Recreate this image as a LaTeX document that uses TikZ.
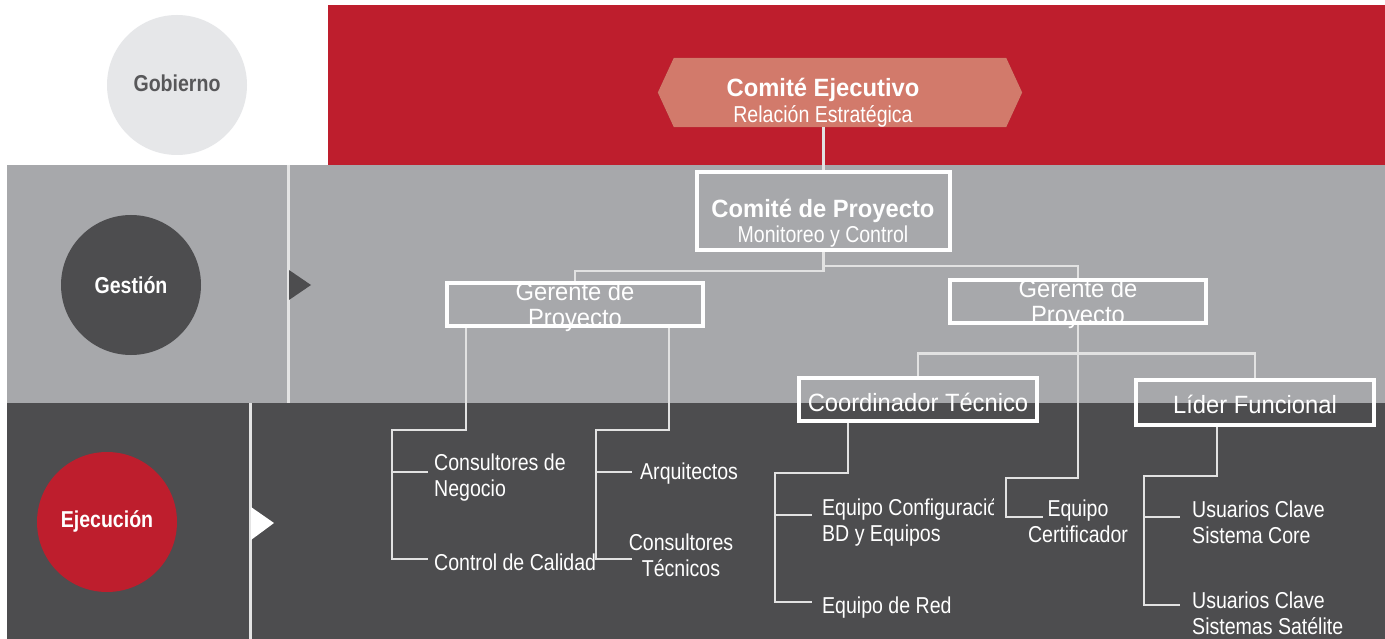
\documentclass[tikz,border=0pt]{standalone}
\usepackage{fontspec}
\setmainfont{Liberation Sans}
\newfontfamily\nar[FakeStretch=0.85]{Liberation Sans}
\newfontfamily\narw[FakeStretch=0.95]{Liberation Sans}
\definecolor{redband}{HTML}{BE1E2D}
\definecolor{grayband}{HTML}{A7A8AB}
\definecolor{darkband}{HTML}{4D4D4F}
\definecolor{salmon}{HTML}{D27A6B}
\definecolor{shadowc}{HTML}{8F1622}
\definecolor{gobc}{HTML}{E6E7E9}
\definecolor{gobt}{HTML}{58585A}
\definecolor{linec}{HTML}{E2E2E2}
\definecolor{divc}{HTML}{E4E4E4}
\begin{document}
\begin{tikzpicture}[x=1pt,y=-1pt,
  conn/.style={draw=linec, line width=2.5pt},
  boxw/.style={draw=white, line width=4pt, rectangle, inner sep=0pt},
  boxtext/.style={text=white, inner sep=0pt, align=center, font=\narw\fontsize{25}{26}\selectfont},
  lab/.style={text=white, inner sep=0pt, anchor=west, align=left, font=\nar\fontsize{23}{26}\selectfont},
  labc/.style={text=white, inner sep=0pt, align=center, font=\nar\fontsize{23}{26}\selectfont},
  sub/.style={text=white, inner sep=0pt, font=\nar\fontsize{23}{26}\selectfont},
  ttl/.style={text=white, inner sep=0pt, font=\narw\bfseries\fontsize{25}{26}\selectfont},
  circ/.style={circle, minimum size=140pt, inner sep=0pt},
  circt/.style={inner sep=0pt, font=\nar\bfseries\fontsize{23}{26}\selectfont}]
\useasboundingbox (0,0) rectangle (1385,639);
% backgrounds
\fill[white] (0,0) rectangle (1385,639);
\fill[redband] (328,5) rectangle (1385,165);
\fill[grayband] (7,165) rectangle (1385,403);
\fill[darkband] (7,403) rectangle (1385,639);
\draw[divc, line width=3pt] (288,165) -- (288,403);
\draw[divc, line width=3pt] (250,403) -- (250,639);
\fill[darkband] (289,270) -- (311,285) -- (289,300) -- cycle;
\fill[white] (251,507) -- (274,523) -- (251,540) -- cycle;
% level circles
\node[circ, fill=gobc] (gob) at (177,85) {};
\node[circt, text=gobt] (gobl) at (177,83) {Gobierno};
\node[circ, fill=darkband] (ges) at (131,285) {};
\node[circt, text=white] (gesl) at (131,285) {Gestión};
\node[circ, fill=redband] (eje) at (107,522) {};
\node[circt, text=white] (ejel) at (107,521) {Ejecución};
% Comité Ejecutivo hexagon
\node[minimum width=364pt, minimum height=69pt, inner sep=0pt] (cej) at (840,92.5) {};
\fill[shadowc, opacity=0.8, shift={(1,3)}] (cej.west) -- ([xshift=16pt]cej.north west) -- ([xshift=-16pt]cej.north east) -- (cej.east) -- ([xshift=-16pt]cej.south east) -- ([xshift=16pt]cej.south west) -- cycle;
\fill[salmon] (cej.west) -- ([xshift=16pt]cej.north west) -- ([xshift=-16pt]cej.north east) -- (cej.east) -- ([xshift=-16pt]cej.south east) -- ([xshift=16pt]cej.south west) -- cycle;
\node[ttl] (cejt) at (823,89.5) {Comité Ejecutivo};
\node[sub] (cejs) at (823,116) {Relación Estratégica};
% Comité de Proyecto
\node[boxw, minimum width=253pt, minimum height=78pt] (cpr) at (823.5,211) {};
\node[ttl] (cprt) at (823,210.5) {Comité de Proyecto};
\node[sub] (cprs) at (823,237) {Monitoreo y Control};
% Gerentes
\node[boxw, minimum width=256pt, minimum height=43pt] (gp1) at (575,304.5) {};
\node[boxtext] (gp1t) at (575,307) {Gerente de\\Proyecto};
\node[boxw, minimum width=256pt, minimum height=43pt] (gp2) at (1078,301.5) {};
\node[boxtext] (gp2t) at (1078,304) {Gerente de\\Proyecto};
% Coordinador / Lider
\node[boxw, minimum width=238pt, minimum height=43pt] (coo) at (918,399.5) {};
\node[boxtext] (coot) at (918,402.5) {Coordinador Técnico};
\node[boxw, minimum width=238pt, minimum height=45pt] (lid) at (1255,402.5) {};
\node[boxtext] (lidt) at (1255,404.5) {Líder Funcional};
% connectors top
\draw[conn] (cpr.north |- cej.south) -- (cpr.north);
\draw[conn] (cpr.south) -- ++(0,19) -| (gp1.north);
\draw[conn] (cpr.south) -- ++(0,14) -| (gp2.north);
\draw[conn] (gp2.south) -- ++(0,28.5) -| (coo.north);
\draw[conn] (gp2.south) -- ++(0,28.5) -| (lid.north);
% leaf labels
\node[lab] (cn) at (434,478) {Consultores de\\Negocio};
\node[lab] (cc) at (434,562) {Control de Calidad};
\node[lab] (arq) at (640,474) {Arquitectos};
\node[labc] (ct) at (681,555) {Consultores\\Técnicos};
\begin{scope}
\clip (800,480) rectangle (993,560);
\node[lab] (ecf) at (822,522) {Equipo Configuración\\BD y Equipos};
\end{scope}
\node[lab] (er) at (822,608) {Equipo de Red};
\node[labc] (cert) at (1078,521) {Equipo\\Certificador};
\node[lab] (uc1) at (1192,522) {Usuarios Clave\\Sistema Core};
\node[lab] (uc2) at (1192,613) {Usuarios Clave\\Sistemas Satélite};
% junction coordinates
\coordinate (s1) at (392,430);
\coordinate (s2) at (596,430);
\coordinate (s3) at (775,473);
\coordinate (s4) at (1006,478);
\coordinate (s5) at (1144,476);
\coordinate (cnb) at (428,472);
\coordinate (ccb) at (428,559);
\coordinate (arqb) at (632,472);
\coordinate (ctb) at (632,559);
\coordinate (ecfb) at (812,515);
\coordinate (erb) at (812,602);
\coordinate (certb) at (1043,517);
\coordinate (uc1b) at (1180,517);
\coordinate (uc2b) at (1180,605);
% left manager branches
\draw[conn] ([xshift=-109pt]gp1.south) |- (s1) |- (ccb);
\draw[conn] (s1 |- cnb) -- (cnb);
\draw[conn] ([xshift=94pt]gp1.south) |- (s2) |- (ctb);
\draw[conn] (s2 |- arqb) -- (arqb);
% right manager branches
\draw[conn] ([xshift=-70pt]coo.south) |- (s3) |- (erb);
\draw[conn] (s3 |- ecfb) -- (ecfb);
\draw[conn] (gp2.south) |- (s4) |- (certb);
\draw[conn] ([xshift=-38pt]lid.south) |- (s5) |- (uc2b);
\draw[conn] (s5 |- uc1b) -- (uc1b);
\end{tikzpicture}
\end{document}
